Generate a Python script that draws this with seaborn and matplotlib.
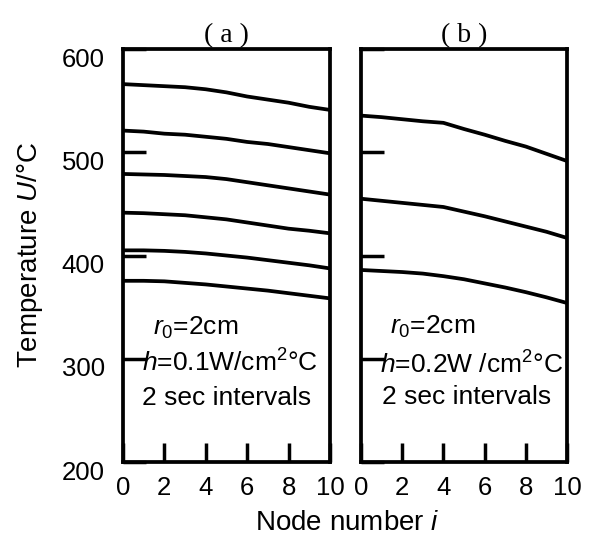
import numpy as np
import pandas as pd
import matplotlib
matplotlib.use("Agg")
import matplotlib.pyplot as plt
import matplotlib.transforms as mtransforms
import seaborn as sns

# nodos 0..10
nodos = [0, 1, 2, 3, 4, 5, 6, 7, 8, 9, 10]

# (a) h = 0.1 W/cm2C, curvas cada 2 s (de arriba a abajo)
a_t1 = [566, 565, 564, 563, 561, 558, 554, 551, 548, 544, 541]
a_t2 = [521, 520, 518, 517, 515, 513, 510, 508, 505, 502, 499]
a_t3 = [479, 478.5, 478, 477, 476, 474, 471, 468, 465, 462, 459]
a_t4 = [441.5, 441, 440, 439, 437, 435, 432, 429, 426, 424, 421.5]
a_t5 = [405, 405, 404.5, 403.5, 402, 400, 398, 395.5, 393, 390.5, 387.5]
a_t6 = [375.5, 375.5, 375, 373.5, 372, 370, 368, 366, 363.5, 361, 358.5]

# (b) h = 0.2 W/cm2C
b_t1 = [535.5, 534, 532, 530, 528.5, 522.5, 517, 511, 505.5, 498.5, 491.5]
b_t2 = [455, 453, 451, 449, 447, 442.5, 438, 433, 428, 423, 417]
b_t3 = [386, 385, 384, 382.5, 380, 377, 373, 369, 364.5, 359.5, 354]

y_ticks = [200, 300, 400, 500, 600]
x_ticks = [0, 2, 4, 6, 8, 10]


def armar_df(curvas):
    filas = []
    for k, vals in enumerate(curvas):
        for n, v in zip(nodos, vals):
            filas.append({"curva": k, "nodo": n, "temp": v})
    return pd.DataFrame(filas)


df_a = armar_df([a_t1, a_t2, a_t3, a_t4, a_t5, a_t6])
df_b = armar_df([b_t1, b_t2, b_t3])

sns.set_style("ticks")
plt.rcParams["font.family"] = ["Liberation Sans", "DejaVu Sans"]
plt.rcParams["mathtext.fontset"] = "custom"
plt.rcParams["mathtext.rm"] = "Liberation Sans"
plt.rcParams["mathtext.it"] = "Liberation Sans:italic"
plt.rcParams["text.color"] = "black"
plt.rcParams["xtick.color"] = "black"
plt.rcParams["ytick.color"] = "black"

fig = plt.figure(figsize=(5.94, 5.35), dpi=100)
ax_a = fig.add_axes([0.207, 0.1364, 0.3485, 0.772])
ax_b = fig.add_axes([0.6077, 0.1364, 0.347, 0.772])

textos = {
    ax_a: [(1.45, 330, "$r_0$=2cm"), (0.92, 296, "$h$=0.1W/cm$^{2}$°C"),
           (0.92, 262, "2 sec intervals")],
    ax_b: [(1.41, 331, "$r_0$=2cm"), (0.92, 294, "$h$=0.2W /cm$^{2}$°C"),
           (1.02, 263, "2 sec intervals")],
}

for ax, df, titulo in [(ax_a, df_a, "( a )"), (ax_b, df_b, "( b )")]:
    sns.lineplot(data=df, x="nodo", y="temp", units="curva", estimator=None,
                 color="black", linewidth=2.7, ax=ax, legend=False)
    ax.set_xlim(0, 10)
    ax.set_ylim(200, 600)
    ax.set_xticks(x_ticks)
    ax.set_yticks(y_ticks)
    ax.set_xlabel("")
    ax.set_ylabel("")
    for s in ax.spines.values():
        s.set_linewidth(2.7)
        s.set_color("black")
    ax.tick_params(axis="y", direction="in", length=16.5, width=2.5,
                   labelsize=18.5, pad=13)
    ax.tick_params(axis="x", direction="in", length=13.5, width=2.5,
                   labelsize=18.5, pad=10)
    ax.set_title(titulo, family=["Liberation Serif"], fontsize=20, pad=5)
    for x, y, t in textos[ax]:
        ax.text(x, y, t, fontsize=19, ha="left", va="center")

ax_b.set_yticklabels([])

# etiquetas del eje y un poco por debajo de la marca
desplazar = mtransforms.ScaledTranslation(0, -0.08, fig.dpi_scale_trans)
for lbl in ax_a.get_yticklabels():
    lbl.set_transform(lbl.get_transform() + desplazar)

fig.text(0.0505, 0.523, "Temperature $U$/°C", rotation=90, fontsize=20,
         ha="center", va="center")
fig.text(0.585, 0.022, "Node number $i$", fontsize=20, ha="center", va="center")

fig.savefig("out.png", dpi=100)
